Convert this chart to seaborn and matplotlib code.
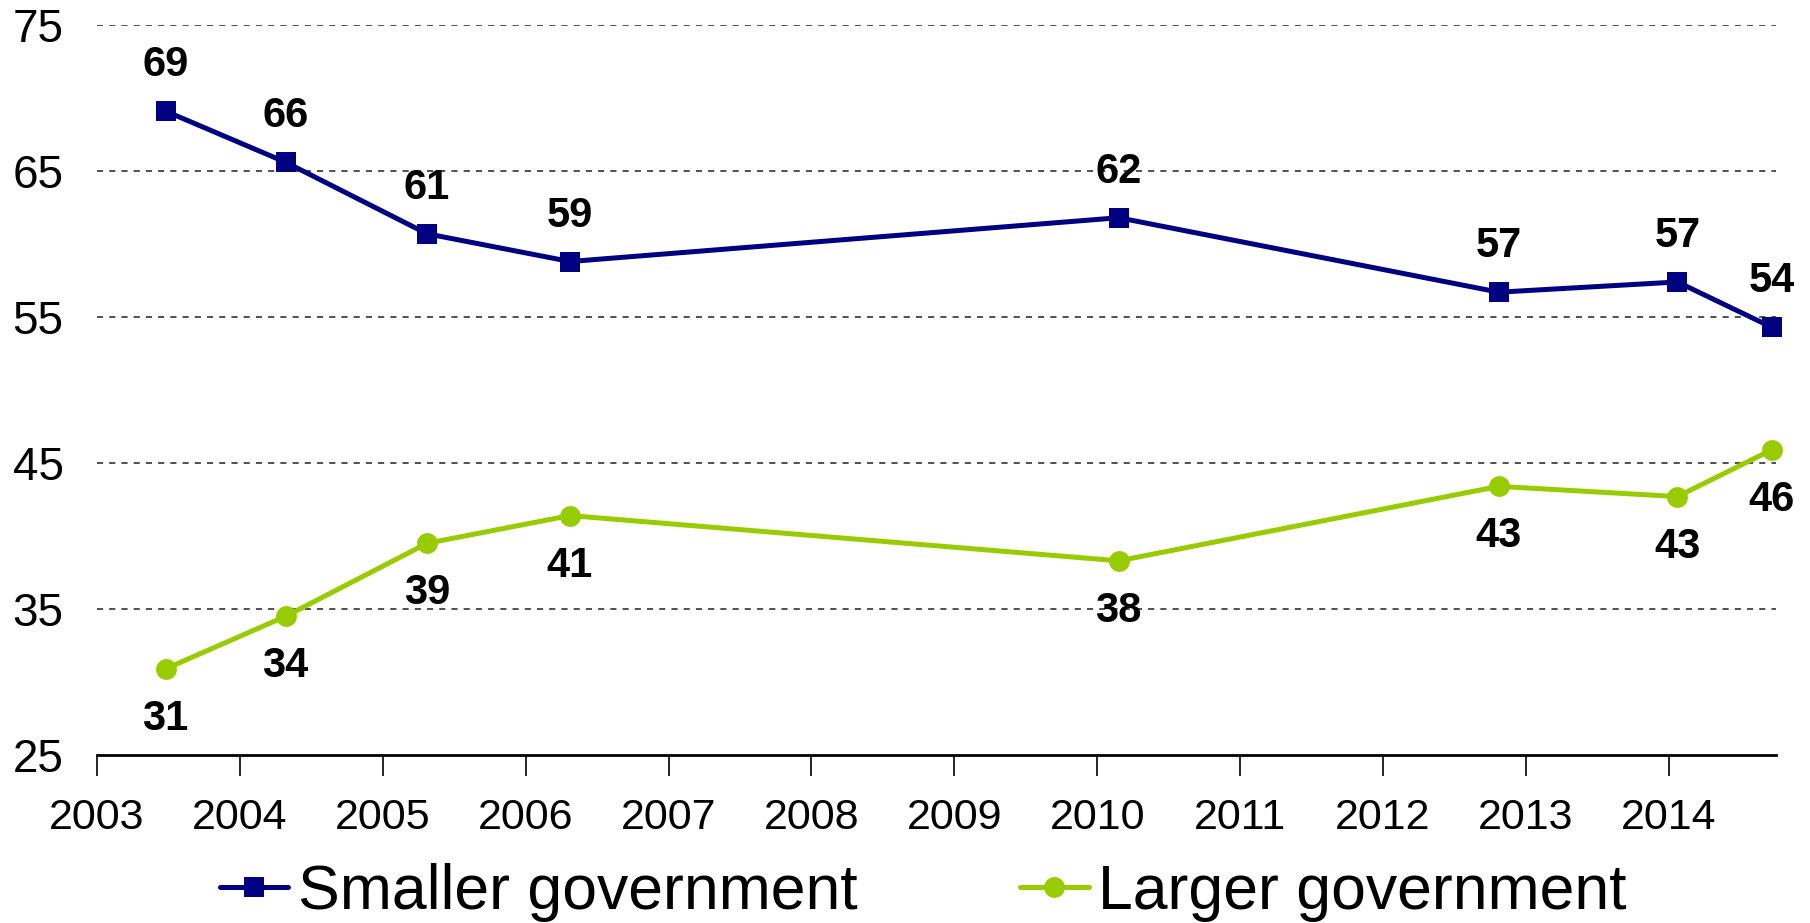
import matplotlib
matplotlib.use("Agg")
import matplotlib.pyplot as plt
import seaborn as sns
import pandas as pd

# Survey dates (fractional years) and plotted values
smaller_x = [2003.48, 2004.32, 2005.31, 2006.31, 2010.15, 2012.81, 2014.06, 2014.72]
smaller_y = [69.1, 65.6, 60.7, 58.8, 61.8, 56.7, 57.4, 54.3]
smaller_labels = ["69", "66", "61", "59", "62", "57", "57", "54"]

larger_x = [2003.48, 2004.32, 2005.31, 2006.31, 2010.15, 2012.81, 2014.06, 2014.72]
larger_y = [30.9, 34.5, 39.5, 41.4, 38.3, 43.4, 42.7, 45.9]
larger_labels = ["31", "34", "39", "41", "38", "43", "43", "46"]

series_names = ["Smaller government", "Larger government"]
year_ticks = list(range(2003, 2015))
y_ticks = [25, 35, 45, 55, 65, 75]

df = pd.DataFrame({
    "year": smaller_x + larger_x,
    "value": smaller_y + larger_y,
    "series": [series_names[0]] * len(smaller_x) + [series_names[1]] * len(larger_x),
})

sns.set_theme(style="white")
plt.rcParams["font.family"] = ["Liberation Sans", "DejaVu Sans"]
plt.rcParams["text.color"] = "black"

fig = plt.figure(figsize=(18.10, 9.23), dpi=100)
ax = fig.add_axes([97 / 1810, 1 - 755 / 923, (1776 - 97) / 1810, (755 - 25) / 923])

colors = {series_names[0]: "#000080", series_names[1]: "#99CC00"}
sns.lineplot(data=df, x="year", y="value", hue="series", style="series",
             palette=colors, markers={series_names[0]: "s", series_names[1]: "o"},
             dashes=False, ax=ax, legend=True, sort=True)

for ln in ax.lines:
    ln.set_linewidth(3.6)
    ln.set_markersize(15)
    ln.set_markeredgewidth(0)
    ln.set_clip_on(False)

ax.set_xlim(2003, 2014.75)
ax.set_ylim(25, 75)
ax.set_xticks(year_ticks)
ax.set_xticklabels([str(y) for y in year_ticks])
ax.set_yticks(y_ticks)
ax.set_xlabel("")
ax.set_ylabel("")

for yv in y_ticks[1:]:
    ax.axhline(yv, color="#202020", linestyle=(0, (4, 4)), linewidth=1.1, zorder=0)

for s in ["left", "right", "top"]:
    ax.spines[s].set_visible(False)
ax.spines["bottom"].set_color("black")
ax.spines["bottom"].set_linewidth(2.0)

ax.tick_params(axis="x", which="major", direction="out", length=15, width=1.2,
               color="black", labelsize=31, pad=16, bottom=True, labelcolor="black")
ax.tick_params(axis="y", length=0, labelsize=33, pad=24, labelcolor="black")

for x, y, lab in zip(smaller_x, smaller_y, smaller_labels):
    ax.annotate(lab, (x, y), xytext=(0, 33), textcoords="offset points",
                ha="center", va="center", fontsize=30, fontweight="bold", color="black")
for x, y, lab in zip(larger_x, larger_y, larger_labels):
    ax.annotate(lab, (x, y), xytext=(0, -36), textcoords="offset points",
                ha="center", va="center", fontsize=30, fontweight="bold", color="black")

handles, labels = ax.get_legend_handles_labels()
ax.get_legend().remove()
for h in handles:
    h.set_linewidth(3.6)
    h.set_markersize(15)
    h.set_markeredgewidth(0)
leg = fig.legend(handles, labels, loc="center", bbox_to_anchor=(923 / 1810, 1 - 892 / 923),
                 ncol=2, frameon=False, fontsize=45, handlelength=1.1, handletextpad=0.15,
                 columnspacing=2.6, borderpad=0, borderaxespad=0)
for t in leg.get_texts():
    t.set_color("black")

fig.savefig("out.png", dpi=100)
